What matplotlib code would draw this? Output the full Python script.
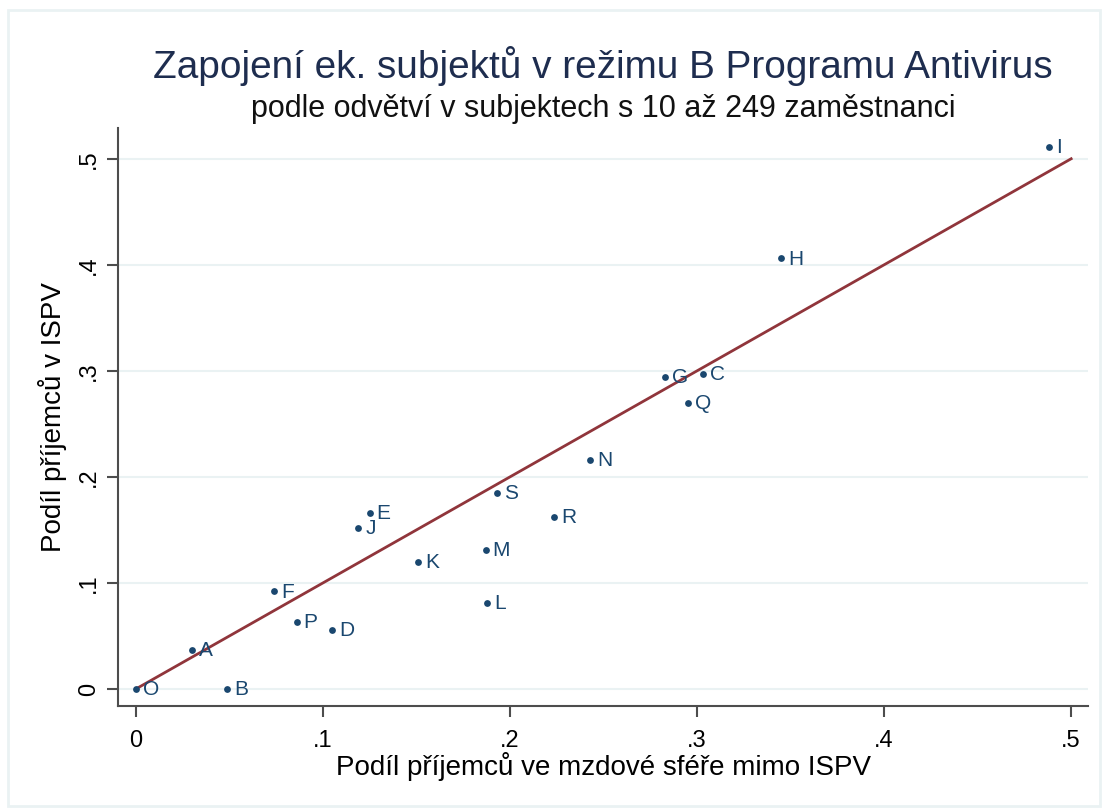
import matplotlib
matplotlib.use("Agg")
import matplotlib.pyplot as plt
from matplotlib.patches import Rectangle

labels = ["I", "H", "G", "C", "Q", "N", "S", "R", "E", "J", "K", "M", "L", "F", "P", "D", "A", "O", "B"]
x_vals = [0.488, 0.345, 0.283, 0.303, 0.295, 0.243, 0.193, 0.2235, 0.125, 0.119, 0.151, 0.187, 0.188, 0.074, 0.086, 0.105, 0.030, 0.0, 0.049]
y_vals = [0.511, 0.406, 0.294, 0.297, 0.270, 0.216, 0.185, 0.162, 0.166, 0.152, 0.120, 0.131, 0.081, 0.092, 0.063, 0.056, 0.037, 0.0, 0.0]
line_x = [0.0, 0.5]
line_y = [0.0, 0.5]
ticks = [0, 0.1, 0.2, 0.3, 0.4, 0.5]
tick_labels = ["0", ".1", ".2", ".3", ".4", ".5"]

plt.rcParams['font.family'] = ['Liberation Sans', 'DejaVu Sans']

fig = plt.figure(figsize=(11.03, 8.09), dpi=100)
fig.patches.append(Rectangle((8/1103, 1-806/809), 1092/1103, 796/809, transform=fig.transFigure,
                             fill=False, edgecolor="#eaf2f3", linewidth=2))
ax = fig.add_axes([118/1103, 1-706/809, 970/1103, 578/809])

navy = "#1a476f"
ax.plot(line_x, line_y, color="#90353b", linewidth=2, zorder=2)
ax.scatter(x_vals, y_vals, s=24, color=navy, zorder=3, linewidths=0)
for lab, xv, yv in zip(labels, x_vals, y_vals):
    ax.annotate(lab, (xv, yv), xytext=(5, -0.5), textcoords="offset points",
                va="center", ha="left", fontsize=15, color=navy, zorder=4)

ax.set_xlim(-0.0095, 0.509)
ax.set_ylim(-0.016, 0.529)
ax.set_xticks(ticks)
ax.set_xticklabels(tick_labels)
ax.set_yticks(ticks)
ax.set_yticklabels(tick_labels, rotation=90, va="center")
ax.tick_params(axis="both", labelsize=17, length=8, width=1.5, color="#4d4d4d")
ax.tick_params(axis="x", pad=9)
ax.tick_params(axis="y", pad=5)
ax.grid(axis="y", color="#eaf2f3", linewidth=1.5)
ax.set_axisbelow(True)
for s in ["top", "right"]:
    ax.spines[s].set_visible(False)
for s in ["left", "bottom"]:
    ax.spines[s].set_color("#4d4d4d")
    ax.spines[s].set_linewidth(1.5)

ax.set_xlabel("Podíl příjemců ve mzdové sféře mimo ISPV", fontsize=20, labelpad=0)
ax.set_ylabel("Podíl příjemců v ISPV", fontsize=20, labelpad=8)

fig.text(603/1103, 1-78/809, "Zapojení ek. subjektů v režimu B Programu Antivirus",
         ha="center", va="baseline", fontsize=27.9, color="#1e2d4f")
fig.text(603/1103, 1-117/809, "podle odvětví v subjektech s 10 až 249 zaměstnanci",
         ha="center", va="baseline", fontsize=22, color="#111111")

fig.savefig("out.png", dpi=100, facecolor="white")
